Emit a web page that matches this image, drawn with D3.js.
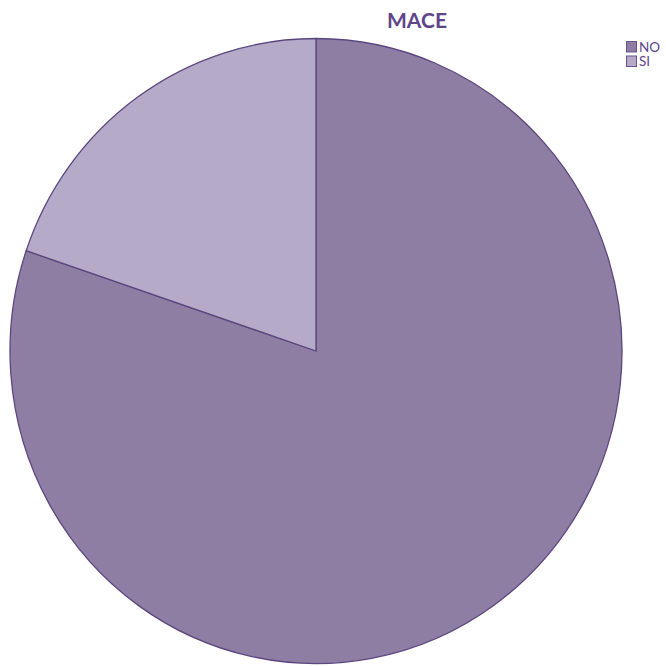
<!DOCTYPE html>
<html>
<head>
<meta charset="utf-8">
<script src="https://cdn.jsdelivr.net/npm/d3@7"></script>
<style>
  html, body { margin: 0; padding: 0; background: #ffffff; }
  svg { display: block; }
</style>
</head>
<body>
<svg id="chart" width="666" height="666"></svg>
<script>
// Chart data
const title = "MACE";
const categories = ["NO", "SI"];
const values = [80.2, 19.8];
const colors = ["#8e7ea3", "#b5aac7"];

const svg = d3.select("#chart");
const cx = 316, cy = 351;
const rx = 306, ry = 312.5;

const pie = d3.pie().sort(null).value(d => d.value).startAngle(0).endAngle(2 * Math.PI);
const arc = d3.arc().innerRadius(0).outerRadius(rx);

const data = categories.map((c, i) => ({ name: c, value: values[i], color: colors[i] }));

// Pie, stretched slightly in height
const g = svg.append("g")
  .attr("transform", `translate(${cx},${cy}) scale(1,${ry / rx})`);

g.selectAll("path")
  .data(pie(data))
  .join("path")
  .attr("d", arc)
  .attr("fill", d => d.data.color)
  .attr("stroke", "#5d4680")
  .attr("stroke-width", 1.3)
  .attr("stroke-linejoin", "round")
  .attr("vector-effect", "non-scaling-stroke");

// Title
svg.append("text")
  .attr("x", 417)
  .attr("y", 28)
  .attr("text-anchor", "middle")
  .attr("font-family", "Lato, 'Open Sans', sans-serif")
  .attr("font-weight", "bold")
  .attr("font-size", 21)
  .attr("fill", "#5e4488")
  .text(title);

// Legend
const legend = svg.append("g").attr("transform", "translate(626,41)");
const item = legend.selectAll("g")
  .data(data)
  .join("g")
  .attr("transform", (d, i) => `translate(0,${i * 14.5})`);
item.append("rect")
  .attr("x", 0.5).attr("y", 0.5)
  .attr("width", 10).attr("height", 10.5)
  .attr("fill", d => d.color)
  .attr("stroke", "#6a5290")
  .attr("stroke-width", 1);
item.append("text")
  .attr("x", 13)
  .attr("y", 10.5)
  .attr("font-family", "Lato, 'Open Sans', sans-serif")
  .attr("font-size", 13.5)
  .attr("fill", "#5e4488")
  .text(d => d.name);
</script>
</body>
</html>
